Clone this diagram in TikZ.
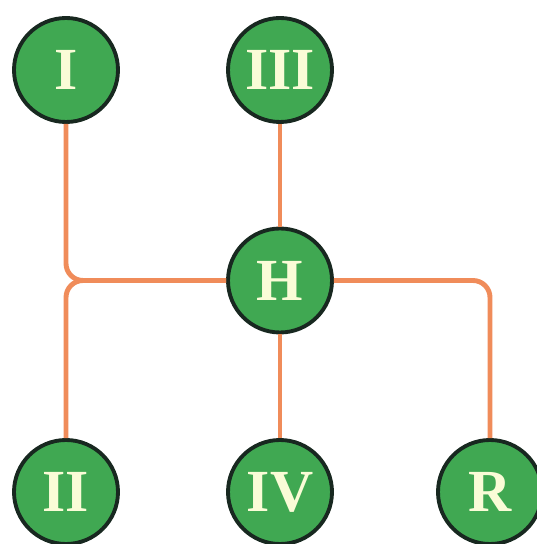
\documentclass[tikz,border=0pt]{standalone}
\usepackage{fontspec}
\setmainfont{Liberation Serif}
\usepackage{tikz}
\usetikzlibrary{calc}

\definecolor{knobgreen}{RGB}{64,168,82}
\definecolor{knobrim}{RGB}{24,40,32}
\definecolor{slotorange}{RGB}{240,140,90}
\definecolor{gearlabel}{RGB}{250,252,215}

\begin{document}
\begin{tikzpicture}[scale=1,
    gear/.style={circle,draw=knobrim,line width=2.2pt,fill=knobgreen,
      minimum size=2.08cm,inner sep=0pt,text=gearlabel,
      font=\bfseries\fontsize{34}{34}\selectfont},
    slot/.style={draw=slotorange,line width=2.8pt,rounded corners=0.34cm}]
  \useasboundingbox (0,0) rectangle (10.74,10.88);

  % the knobs of the shift pattern
  \node[gear] (g1) at (1.32,9.48) {I};
  \node[gear] (g3) at (5.6,9.48) {III};
  \node[gear] (gH) at (5.6,5.27) {H};
  \node[gear] (g2) at (1.32,1.04) {II};
  \node[gear] (g4) at (5.6,1.04) {IV};
  \node[gear] (gR) at (9.8,1.04) {R};

  % gates between the knobs
  \draw[slot] (g1.south) |- (gH.west);
  \draw[slot] (g2.north) |- (gH.west);
  \draw[slot] (g3.south) -- (gH.north);
  \draw[slot] (g4.north) -- (gH.south);
  \draw[slot] (gR.north) |- (gH.east);
\end{tikzpicture}
\end{document}
